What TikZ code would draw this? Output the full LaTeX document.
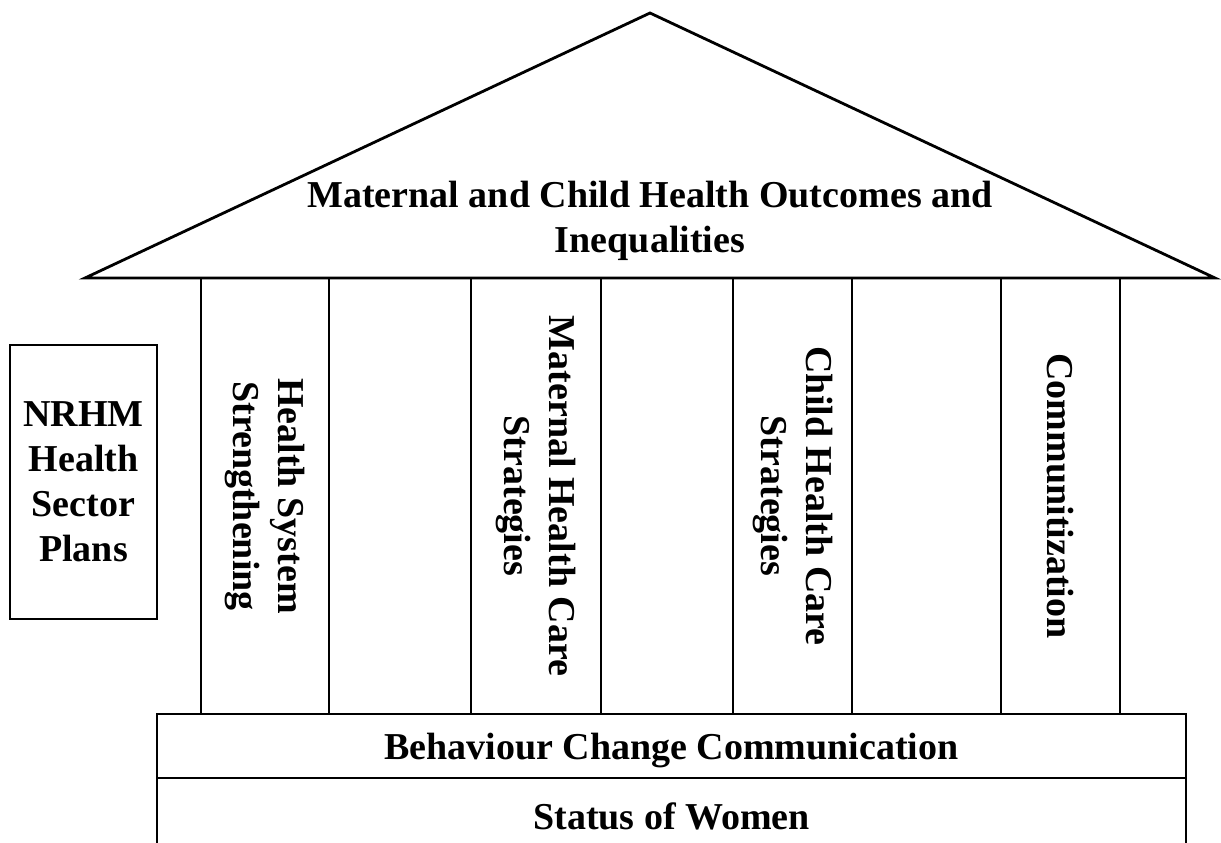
\documentclass[tikz,border=0pt]{standalone}
\usepackage{fontspec}
\setmainfont{Liberation Serif}
\usetikzlibrary{positioning}
\begin{document}
\begin{tikzpicture}[x=1pt,y=-1pt,line width=2.8pt,
  every node/.style={font=\bfseries\fontsize{38}{45}\selectfont,align=center},
  box/.style={draw,inner sep=0pt,outer sep=0pt},
  pillar/.style={box,rotate=-90,minimum width=436pt}]
\useasboundingbox (0,0) rectangle (1221,843);
% roof
\draw[line join=miter] (85,278)--(650,13)--(1215,278)--cycle;
\node (outcomes) at (650,221) {Maternal and Child Health Outcomes and\\Inequalities};
% pillars
\node[pillar,minimum height=128pt] (hss) at (265,496) {Health System\\Strengthening};
\node[pillar,minimum height=130pt] (mhc) at (536,496) {Maternal Health Care\\Strategies};
\node[pillar,minimum height=119pt] (chc) at (792.5,496) {Child Health Care\\Strategies};
\node[pillar,minimum height=119pt] (comm) at (1060.5,496) {Communitization};
% side box
\node[box,minimum width=147pt,minimum height=274pt] (nrhm) at (83.5,482) {NRHM\\Health\\Sector\\Plans};
% base
\node[box,minimum width=1029pt,minimum height=64pt,text depth=0pt] (bcc) at (671.5,746) {Behaviour Change Communication};
\node[box,minimum width=1029pt,minimum height=76pt,below=0pt of bcc] (women) {Status of Women};
\end{tikzpicture}
\end{document}
